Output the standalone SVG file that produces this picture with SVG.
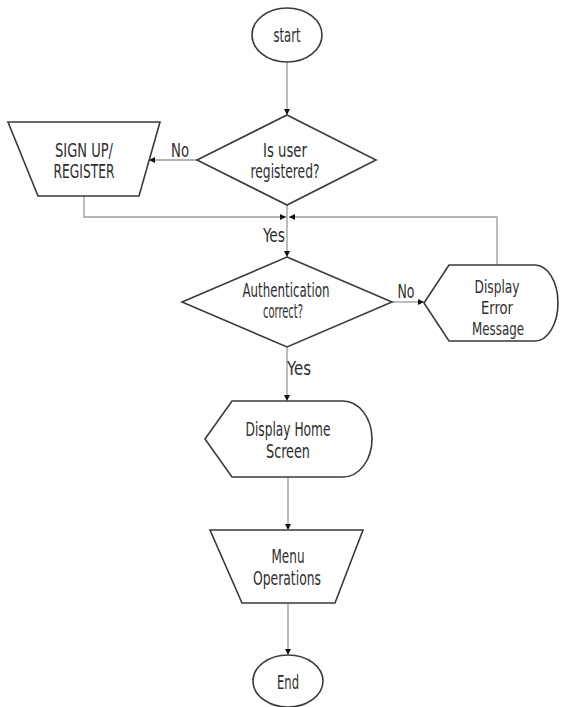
<svg xmlns="http://www.w3.org/2000/svg" width="564" height="707" viewBox="0 0 564 707">
<defs>
<style>
.shape{fill:#fff;stroke:#3a3a3a;stroke-width:1.6}
.conn{fill:none;stroke:#9a9a9a;stroke-width:1.3}
text{font-family:"Liberation Sans Narrow","DejaVu Sans Condensed","Liberation Sans",sans-serif;font-size:19px;fill:#2e2e2e;text-anchor:middle}
.sm{font-size:17px}
</style>
<marker id="arr" viewBox="0 0 10 10" refX="10" refY="5" markerWidth="6" markerHeight="6" markerUnits="userSpaceOnUse" orient="auto">
<path d="M0,0 L10,5 L0,10 z" fill="#111"/>
</marker>
</defs>
<rect width="564" height="707" fill="#fff"/>
<g id="connectors">
<path class="conn" d="M287,62 V115" marker-end="url(#arr)"/>
<path class="conn" d="M197,160 H149" marker-end="url(#arr)"/>
<path class="conn" d="M84,196 V217 H286" marker-end="url(#arr)"/>
<path class="conn" d="M497,265 V217 H289" marker-end="url(#arr)"/>
<path class="conn" d="M287,205 V257" marker-end="url(#arr)"/>
<path class="conn" d="M392,302 H424" marker-end="url(#arr)"/>
<path class="conn" d="M287,347 V401" marker-end="url(#arr)"/>
<path class="conn" d="M288,477 V530" marker-end="url(#arr)"/>
<path class="conn" d="M288,603 V655" marker-end="url(#arr)"/>
<text x="180" y="157" textLength="18" lengthAdjust="spacingAndGlyphs">No</text>
<text x="274" y="242" textLength="22" lengthAdjust="spacingAndGlyphs">Yes</text>
<text x="406" y="298" textLength="17" lengthAdjust="spacingAndGlyphs">No</text>
<text x="299" y="375" textLength="24" lengthAdjust="spacingAndGlyphs">Yes</text>
</g>
<g id="start">
<ellipse class="shape" cx="287" cy="35" rx="35" ry="27"/>
<text x="287" y="42" textLength="27" lengthAdjust="spacingAndGlyphs">start</text>
</g>
<g id="is-registered">
<polygon class="shape" points="287,115 376,160 287,205 197,160"/>
<text x="285" y="157" textLength="44" lengthAdjust="spacingAndGlyphs">Is user</text>
<text x="285" y="178" textLength="69" lengthAdjust="spacingAndGlyphs">registered?</text>
</g>
<g id="signup">
<polygon class="shape" points="8,122 160,122 139,196 38,196"/>
<text x="84" y="157" textLength="58" lengthAdjust="spacingAndGlyphs">SIGN UP/</text>
<text x="84" y="178" textLength="61" lengthAdjust="spacingAndGlyphs">REGISTER</text>
</g>
<g id="auth">
<polygon class="shape" points="287,257 392,302 287,347 182,302"/>
<text x="286" y="297" textLength="87" lengthAdjust="spacingAndGlyphs">Authentication</text>
<text x="283" y="318" textLength="40" lengthAdjust="spacingAndGlyphs">correct?</text>
</g>
<g id="error">
<path class="shape" d="M424,303 L449,265 H535 A23,38 0 0 1 535,341 H449 Z"/>
<text class="sm" x="497" y="293" textLength="45" lengthAdjust="spacingAndGlyphs">Display</text>
<text class="sm" x="497" y="314" textLength="32" lengthAdjust="spacingAndGlyphs">Error</text>
<text class="sm" x="498" y="335" textLength="52" lengthAdjust="spacingAndGlyphs">Message</text>
</g>
<g id="home">
<path class="shape" d="M205,439 L232,401 H343 A29,38 0 0 1 343,477 H232 Z"/>
<text x="288" y="436" textLength="85" lengthAdjust="spacingAndGlyphs">Display Home</text>
<text x="288" y="458" textLength="44" lengthAdjust="spacingAndGlyphs">Screen</text>
</g>
<g id="menu">
<polygon class="shape" points="210,530 363,530 335,603 242,603"/>
<text x="288" y="563" textLength="33" lengthAdjust="spacingAndGlyphs">Menu</text>
<text x="287" y="585" textLength="68" lengthAdjust="spacingAndGlyphs">Operations</text>
</g>
<g id="end">
<ellipse class="shape" cx="288" cy="681" rx="35" ry="26"/>
<text x="288" y="689" textLength="22" lengthAdjust="spacingAndGlyphs">End</text>
</g>
</svg>
